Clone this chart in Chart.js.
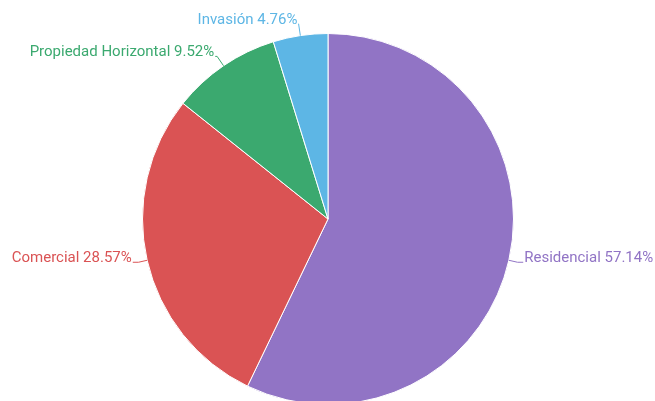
<!DOCTYPE html>
<html lang="es">
    <head>
        <meta charset="utf-8" />
        <script src="https://cdn.jsdelivr.net/npm/chart.js@4.4.0/dist/chart.umd.min.js"></script>
        <title>Tipo de predio</title>
        <style>
            html, body { margin: 0; padding: 0; overflow: hidden; background: #fff; }
            #caja { width: 655px; height: 410px; }
        </style>
    </head>
    <body>
        <div id="caja"><canvas id="torta"></canvas></div>
        <script>
            var categorias = ["Residencial", "Comercial", "Propiedad Horizontal", "Invasión"];
            var cantidades = [12, 6, 2, 1];
            var colores = ["#9174c5", "#da5354", "#3ba96f", "#5db6e5"];

            // etiquetas afuera de la torta con su linea guia
            var etiquetasAfuera = {
                id: "etiquetasAfuera",
                afterDatasetsDraw: function (chart) {
                    var ctx = chart.ctx;
                    var arcos = chart.getDatasetMeta(0).data;
                    var total = cantidades.reduce((a, b) => a + b, 0);
                    ctx.save();
                    ctx.font = "15px Roboto";
                    ctx.textBaseline = "middle";
                    ctx.lineWidth = 1;
                    arcos.forEach((arco, i) => {
                        var ang = (arco.startAngle + arco.endAngle) / 2;
                        var dx = Math.cos(ang), dy = Math.sin(ang);
                        var r = arco.outerRadius;
                        var x0 = arco.x + r * dx, y0 = arco.y + r * dy;
                        var l1 = 8 + 4 * Math.abs(dy);
                        var x1 = arco.x + (r + l1) * dx, y1 = arco.y + (r + l1) * dy;
                        var lado = dx >= 0 ? 1 : -1;
                        var x2 = x1 + lado * 6 * dx * dx;
                        ctx.strokeStyle = colores[i];
                        ctx.beginPath();
                        ctx.moveTo(x0, y0);
                        ctx.lineTo(x1, y1);
                        ctx.lineTo(x2, y1);
                        ctx.stroke();
                        var pct = ((cantidades[i] / total) * 100).toFixed(2) + "%";
                        ctx.fillStyle = colores[i];
                        ctx.textAlign = lado > 0 ? "left" : "right";
                        ctx.fillText(categorias[i] + " " + pct, x2 + lado * 1, y1 - 4);
                    });
                    ctx.restore();
                },
            };

            new Chart(document.getElementById("torta").getContext("2d"), {
                type: "pie",
                data: {
                    labels: categorias,
                    datasets: [
                        {
                            data: cantidades,
                            backgroundColor: colores,
                            borderColor: "#ffffff",
                            borderWidth: 1,
                        },
                    ],
                },
                options: {
                    responsive: true,
                    maintainAspectRatio: false,
                    animation: false,
                    layout: { padding: { top: 33, bottom: 5, left: 142, right: 141 } },
                    plugins: {
                        legend: { display: false },
                        tooltip: { enabled: false },
                    },
                },
                plugins: [etiquetasAfuera],
            });
        </script>
    </body>
</html>
